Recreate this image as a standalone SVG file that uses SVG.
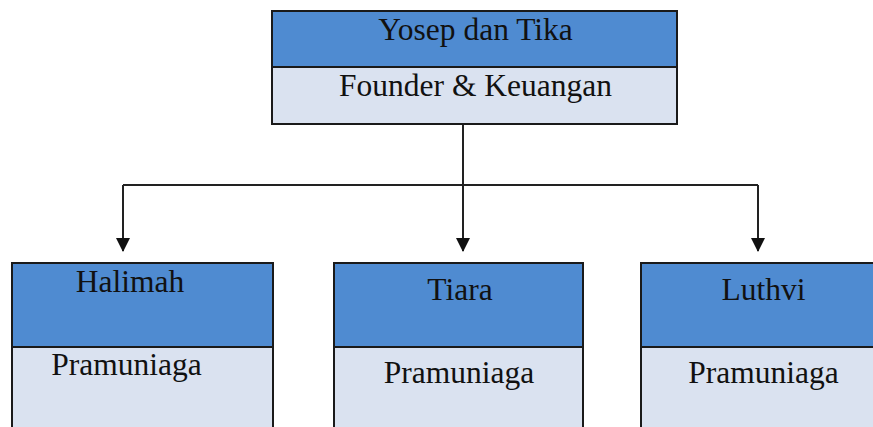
<svg xmlns="http://www.w3.org/2000/svg" width="873" height="427" viewBox="0 0 873 427">
<style>
.hd{fill:#4f8bd1;stroke:#1a1a1a;stroke-width:2}
.bd{fill:#dae2f0;stroke:#1a1a1a;stroke-width:2}
.t{font-family:"Liberation Serif","Times New Roman",serif;font-size:31.5px;fill:#111;text-anchor:middle}
.c{fill:none;stroke:#222;stroke-width:2}
</style>
<defs>
<marker id="ah" markerWidth="7" markerHeight="7" refX="6.5" refY="3.5" orient="auto" markerUnits="strokeWidth">
<path d="M0,0 L7,3.5 L0,7 Z" fill="#111"/>
</marker>
</defs>
<rect width="873" height="427" fill="#fff"/>
<g id="connectors">
<path class="c" d="M463,124 V185"/>
<path class="c" d="M123,185 H758"/>
<path class="c" d="M123,185 V251" marker-end="url(#ah)"/>
<path class="c" d="M463,185 V251" marker-end="url(#ah)"/>
<path class="c" d="M758,185 V251" marker-end="url(#ah)"/>
</g>
<g id="yosep">
<rect class="hd" x="272" y="11" width="405" height="56"/>
<rect class="bd" x="272" y="67" width="405" height="57"/>
<text class="t" x="475.5" y="40">Yosep dan Tika</text>
<text class="t" x="475.5" y="96">Founder &amp; Keuangan</text>
</g>
<g id="halimah">
<rect class="hd" x="12" y="263" width="261" height="84"/>
<rect class="bd" x="12" y="347" width="261" height="100"/>
<text class="t" x="130" y="292">Halimah</text>
<text class="t" x="126.5" y="375">Pramuniaga</text>
</g>
<g id="tiara">
<rect class="hd" x="334" y="263" width="249" height="84"/>
<rect class="bd" x="334" y="347" width="249" height="100"/>
<text class="t" x="460" y="300">Tiara</text>
<text class="t" x="459" y="383">Pramuniaga</text>
</g>
<g id="luthvi">
<rect class="hd" x="641" y="263" width="250" height="84"/>
<rect class="bd" x="641" y="347" width="250" height="100"/>
<text class="t" x="763.5" y="300">Luthvi</text>
<text class="t" x="763.5" y="383">Pramuniaga</text>
</g>
</svg>
